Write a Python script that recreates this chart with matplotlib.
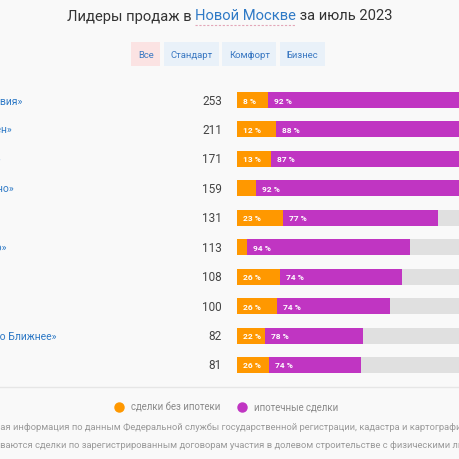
import matplotlib as mpl
import matplotlib.pyplot as plt
from matplotlib.lines import Line2D
from matplotlib.patches import Rectangle

#=================Data=====================
names = ['ЖК «Скандинавия»', 'ЖК «Новый Лён»', 'ЖК «Пыхтино»', 'ЖК «Эко Бунино»',
         'ЖК «Лесное»', 'ЖК «Алхимово»', 'ЖК «Троицк»', 'ЖК «Ясно»',
         'ЖК «Середнево Ближнее»', 'ЖК «Бунино»']
totals = [253, 211, 171, 159, 131, 113, 108, 100, 82, 81]
pct_cash = [8, 12, 13, 8, 23, 6, 26, 26, 22, 26]
pct_mortgage = [92, 88, 87, 92, 77, 94, 74, 74, 78, 74]
tabs = ['Все', 'Стандарт', 'Комфорт', 'Бизнес']
title_parts = ['Лидеры продаж в ', 'Новой Москве', ' за июль 2023']
legend_labels = ['сделки без ипотеки', 'ипотечные сделки']
footnote = ['Представлена актуальная информация по данным Федеральной службы государственной регистрации, кадастра и картографии.',
            'Учитываются сделки по зарегистрированным договорам участия в долевом строительстве с физическими лицами.']

#=================Style=====================
mpl.rcParams['font.family'] = ['Roboto', 'DejaVu Sans']
BG = '#f9f9f9'
ORANGE = '#ff9800'
MAGENTA = '#c035c2'
TRACK = '#e0e0e0'
BLUE = '#2f7ac6'
W = H = 460.0

def fx(px): return px / W
def fy(py): return 1 - py / H

fig = plt.figure(figsize=(4.6, 4.6), dpi=100, facecolor=BG)
renderer = fig.canvas.get_renderer()

def text_width(s, **kw):
    t = fig.text(0, 0, s, **kw)
    w = t.get_window_extent(renderer).width
    t.remove()
    return w

#=================Title=====================
tkw = dict(fontsize=10.6, va='center')
widths = [text_width(p, **tkw) for p in title_parts]
x = 230 - sum(widths) / 2
for part, w, col in zip(title_parts, widths, ['#333333', BLUE, '#333333']):
    fig.text(fx(x), fy(16.5), part, color=col, **tkw)
    if col == BLUE:
        fig.add_artist(Line2D([fx(x), fx(x + w)], [fy(25.5), fy(25.5)], color='#e3a7b8',
                              lw=0.8, ls=(0, (2, 1.5)), transform=fig.transFigure))
    x += w

#=================Tabs=====================
bkw = dict(fontsize=6.8, va='center', ha='center', color='#3a78c2')
pad, gap = 6.5, 3.5
bw = [text_width(t, **bkw) + 2 * pad for t in tabs]
x = 228 - (sum(bw) + gap * (len(tabs) - 1)) / 2
for i, (t, w) in enumerate(zip(tabs, bw)):
    fc = '#fbe3e3' if i == 0 else '#e9f1f9'
    fig.add_artist(Rectangle((fx(x), fy(67)), w / W, 24 / H, facecolor=fc, edgecolor='none',
                             transform=fig.transFigure))
    fig.text(fx(x + w / 2), fy(55), t, **bkw)
    x += w + gap

#=================Bars=====================
n = len(totals)
top_px, row_px = 86.3, 29.44
scale = 1.532  # px per deal
ax = fig.add_axes([fx(237), fy(top_px + n * row_px), max(totals) * scale / W, n * row_px / H])
ax.set_facecolor('none')
rows = list(range(n))
cash = [t * p / 100 for t, p in zip(totals, pct_cash)]
mort = [t - c for t, c in zip(totals, cash)]
bh = 16 / row_px
ax.barh(rows, [max(totals)] * n, height=bh, color=TRACK)
ax.barh(rows, cash, height=bh, color=ORANGE)
ax.barh(rows, mort, left=cash, height=bh, color=MAGENTA)
ax.set_xlim(0, max(totals))
ax.set_ylim(n - 0.5, -0.5)
ax.axis('off')

off = 6 / scale
lkw = dict(color='white', fontsize=6, va='center', fontweight='semibold')
for i in rows:
    if cash[i] > 15:
        ax.text(off, i, f'{pct_cash[i]} %', **lkw)
    ax.text(cash[i] + off, i, f'{pct_mortgage[i]} %', **lkw)

# totals and names
nkw = dict(fontsize=7.5, color=BLUE, va='center')
x0 = 22 - text_width(names[0], **nkw)
for i in rows:
    yc = fy(top_px + (i + 0.5) * row_px)
    fig.text(fx(222), yc, str(totals[i]), fontsize=8.5, color='#444444', ha='right', va='center')
    fig.text(fx(x0), yc, names[i], **nkw)

#=================Separator & legend=====================
fig.add_artist(Line2D([0, 1], [fy(388), fy(388)], color='#e6e6e6', lw=1, transform=fig.transFigure))
handles = [Line2D([], [], marker='o', ls='none', color=c, markersize=6.5) for c in [ORANGE, MAGENTA]]
fig.legend(handles, legend_labels, loc='center', bbox_to_anchor=(fx(224), fy(408)), ncol=2,
           frameon=False, fontsize=6.9, labelcolor='#8a8a8a', handletextpad=0.2, columnspacing=1.3)

#=================Footnote=====================
fkw = dict(fontsize=6.75, color='#9a9a9a', va='center')
for line, prefix, yy in zip(footnote, ['Представлена актуальн', 'Учиты'], [428, 446]):
    fig.text(fx(-text_width(prefix, **fkw)), fy(yy), line, **fkw)

fig.savefig('out.png', dpi=100, facecolor=BG)
